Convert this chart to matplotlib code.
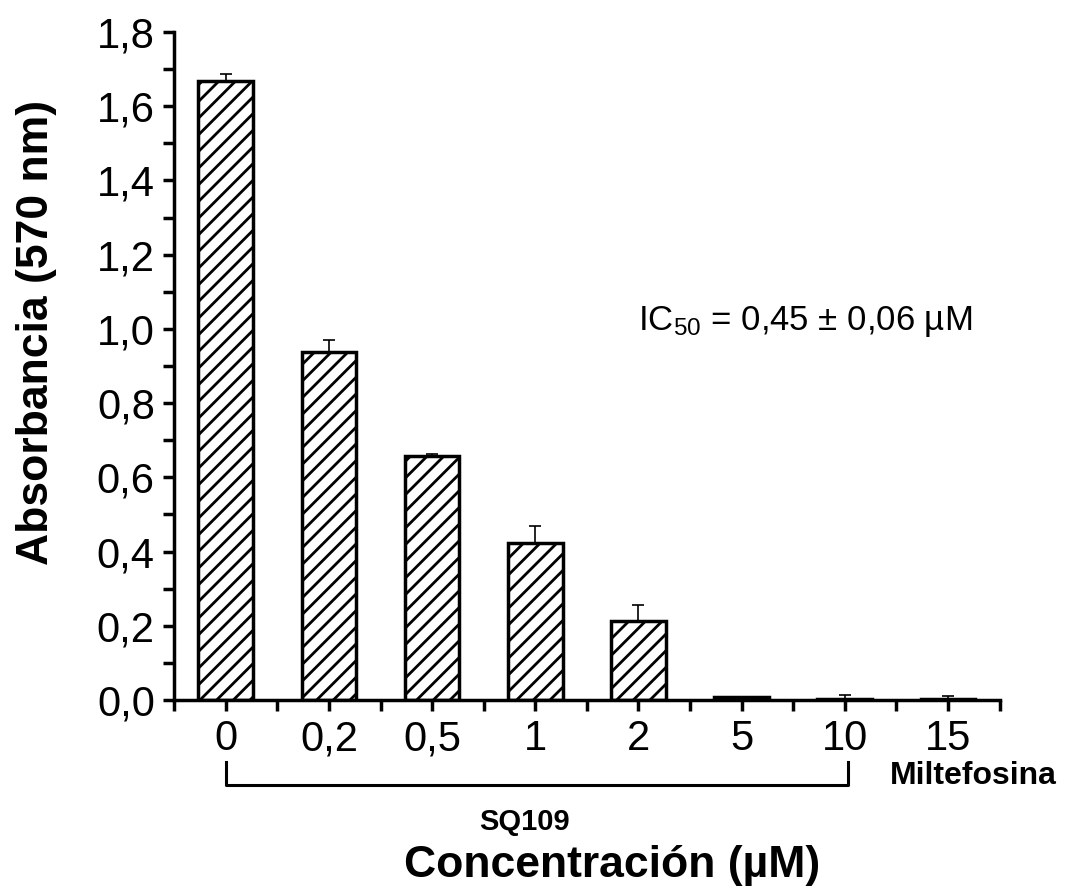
import numpy as np
import matplotlib
matplotlib.use("Agg")
import matplotlib.pyplot as plt
from matplotlib.ticker import MultipleLocator

plt.rcParams['font.family'] = ['Liberation Sans', 'DejaVu Sans']
plt.rcParams['mathtext.fontset'] = 'custom'
plt.rcParams['mathtext.rm'] = 'Liberation Sans'
plt.rcParams['mathtext.it'] = 'Liberation Sans'
plt.rcParams['hatch.linewidth'] = 2.0

# data
categories = ["0", "0,2", "0,5", "1", "2", "5", "10", "15"]
absorbance = [1.667, 0.937, 0.658, 0.423, 0.213, 0.008, 0.002, 0.002]
err_up = [0.020, 0.033, 0.004, 0.046, 0.043, 0.000, 0.012, 0.008]

fig = plt.figure(figsize=(10.69, 8.9), dpi=100)
ax = fig.add_axes([0.163, 0.2135, 0.772, 0.7505])

x = np.arange(len(categories))
ax.bar(x, absorbance, width=0.53, color="white", edgecolor="black",
       linewidth=2.5, hatch="//", zorder=2)
ax.errorbar(x, absorbance, yerr=[np.zeros(len(x)), err_up], fmt="none",
            ecolor="black", elinewidth=1.2, capsize=4.5, capthick=1.2, zorder=3)

ax.set_xlim(-0.5, 7.5)
ax.set_ylim(0, 1.8)
ax.set_xticks(x)
ax.set_xticklabels(categories)
ax.xaxis.set_minor_locator(MultipleLocator(0.5))
ax.yaxis.set_major_locator(MultipleLocator(0.2))
ax.yaxis.set_minor_locator(MultipleLocator(0.1))
ax.yaxis.set_major_formatter(plt.FuncFormatter(lambda v, p: f"{v:.1f}".replace(".", ",")))

for s in ["top", "right"]:
    ax.spines[s].set_visible(False)
for s in ["left", "bottom"]:
    ax.spines[s].set_linewidth(2.5)
ax.tick_params(axis="both", which="major", direction="out", length=8, width=2.5,
               labelsize=30, pad=6)
ax.tick_params(axis="both", which="minor", direction="out", length=8, width=2.5)

fig.text(37 / 1069, 0.627, "Absorbancia (570 nm)", rotation=90, ha="center", va="center",
         fontsize=32, fontweight="bold")
ax.text(3.74, -0.445, "Concentración (µM)", ha="center", va="center",
        fontsize=32, fontweight="bold")

ax.text(4.0, 1.02, r"IC$_{\mathrm{50}}$ = 0,45 ± 0,06 µM", fontsize=25, ha="left", va="center")

# bracket under SQ109 concentrations
ax.plot([0, 0, 6.03, 6.03], [-0.167, -0.229, -0.229, -0.167], color="black", lw=2.2,
        clip_on=False)
ax.text(2.9, -0.33, "SQ109", fontsize=21, fontweight="bold", ha="center", va="center")
ax.text(7.25, -0.205, "Miltefosina", fontsize=23, fontweight="bold", ha="center", va="center")

fig.savefig("out.png", dpi=100)
